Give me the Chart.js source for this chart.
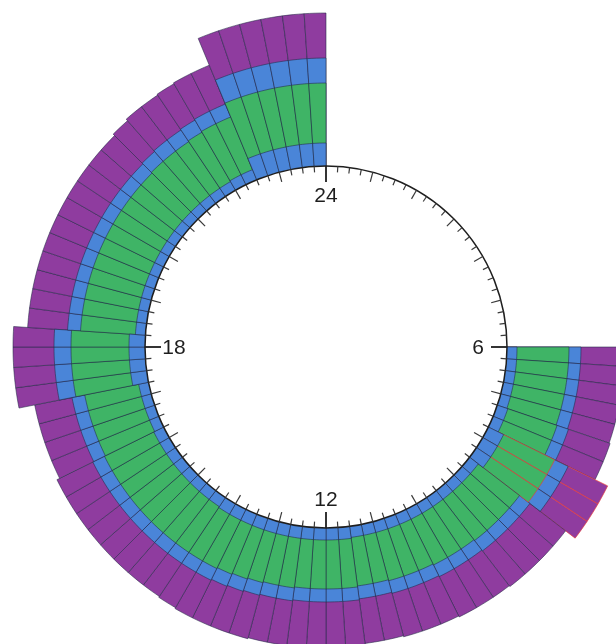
<!DOCTYPE html>
<html lang="en">
<head>
<meta charset="UTF-8">
<title>24-hour radial chart</title>
<script src="https://cdn.jsdelivr.net/npm/chart.js@4.4.1/dist/chart.umd.min.js"></script>
<style>
  html, body { margin: 0; padding: 0; background: #fff; }
  #wrap { width: 616px; height: 644px; }
</style>
</head>
<body>
<div id="wrap"><canvas id="clockChart"></canvas></div>
<script>
// one slot per 15 minutes, slot 0 = 0:00 at the top, clockwise
const slots = [];
for (let h = 0; h < 24; h++) {
  for (let m = 0; m < 60; m += 15) slots.push(h + ':' + String(m).padStart(2, '0'));
}

// clock face labels
const faceText = ['24', '6', '12', '18'];
const faceSlots = [0, 24, 48, 72];
const faceValue = 181;           // radius of the clock face in scale units

// layer thickness per slot (inner blue, green, outer blue, purple)
const innerBlue = [
  0, 0, 0, 0, 0, 0, 0, 0,
  0, 0, 0, 0, 0, 0, 0, 0,
  0, 0, 0, 0, 0, 0, 0, 0,
  10, 10, 10, 10, 10, 11, 11, 17,
  17, 17, 11, 11, 11, 11, 11, 11,
  11, 11, 11, 11, 11, 11, 12, 12,
  12, 12, 12, 12, 12, 12, 12, 12,
  12, 11, 11, 11, 11, 11, 11, 11,
  11, 10, 10, 10, 10, 16, 16, 16,
  16, 10, 10, 10, 10, 10, 10, 10,
  10, 10, 10, 10, 10, 10, 10, 10,
  11, 11, 23, 23, 23, 23, 23, 23
];
const green = [
  0, 0, 0, 0, 0, 0, 0, 0,
  0, 0, 0, 0, 0, 0, 0, 0,
  0, 0, 0, 0, 0, 0, 0, 0,
  52, 52, 52, 52, 52, 52, 52, 57,
  57, 57, 52, 52, 52, 52, 51, 51,
  51, 50, 50, 50, 49, 49, 49, 49,
  49, 49, 50, 50, 51, 52, 53, 54,
  54, 55, 55, 55, 55, 55, 55, 55,
  55, 55, 55, 55, 55, 58, 58, 58,
  58, 55, 55, 55, 55, 55, 55, 55,
  55, 55, 55, 55, 56, 56, 56, 57,
  57, 57, 60, 60, 60, 60, 60, 60
];
const outerBlue = [
  0, 0, 0, 0, 0, 0, 0, 0,
  0, 0, 0, 0, 0, 0, 0, 0,
  0, 0, 0, 0, 0, 0, 0, 0,
  12, 12, 12, 12, 12, 12, 12, 15,
  15, 15, 13, 13, 13, 13, 13, 13,
  13, 13, 13, 13, 13, 13, 13, 13,
  13, 13, 13, 13, 13, 13, 13, 13,
  13, 13, 13, 13, 13, 13, 13, 13,
  13, 13, 13, 13, 13, 17, 17, 17,
  17, 13, 13, 13, 13, 13, 13, 13,
  13, 13, 13, 13, 13, 14, 14, 14,
  14, 14, 25, 25, 25, 25, 25, 25
];
const purple = [
  0, 0, 0, 0, 0, 0, 0, 0,
  0, 0, 0, 0, 0, 0, 0, 0,
  0, 0, 0, 0, 0, 0, 0, 0,
  44, 44, 44, 44, 44, 44, 44, 44,
  44, 44, 45, 45, 45, 45, 45, 45,
  45, 45, 45, 45, 45, 45, 45, 45,
  45, 45, 45, 45, 45, 44, 43, 42,
  41, 40, 40, 40, 40, 40, 40, 40,
  40, 38, 38, 38, 38, 41, 41, 41,
  41, 40, 40, 40, 40, 40, 40, 40,
  40, 40, 40, 40, 41, 42, 42, 42,
  42, 42, 45, 45, 45, 45, 45, 45
];
// slots drawn with a red outline
const marked = [31, 32, 33];

const layerColors = ['#4a85d8', '#3fb466', '#4a85d8', '#8f3c9f'];
const edge = 'rgba(35, 40, 70, 0.55)';
const redEdge = 'rgba(230, 60, 60, 0.7)';

// stack the layers outward from the clock face
const layers = [innerBlue, green, outerBlue, purple];
const stacked = [];
let running = slots.map(() => faceValue);
layers.forEach(layer => {
  running = running.map((v, i) => v + layer[i]);
  stacked.push(running.map((v, i) => layer[i] > 0 ? v : 0));
});

// innermost layer first so it is drawn on top of the wider ones
const datasets = stacked.map((values, k) => ({
  data: values,
  backgroundColor: layerColors[k],
  borderColor: c => (k === 1 || k === 3) && marked.includes(c.dataIndex) ? redEdge : edge,
  borderWidth: 1,
  clip: false
}));

const clockFace = {
  id: 'clockFace',
  afterDatasetsDraw(chart) {
    const r = chart.scales.r;
    const ctx = chart.ctx;
    const rad = r.getDistanceFromCenterForValue(faceValue);
    ctx.save();
    // blank dial
    ctx.fillStyle = '#ffffff';
    ctx.beginPath();
    ctx.arc(r.xCenter, r.yCenter, rad, 0, Math.PI * 2);
    ctx.fill();
    ctx.strokeStyle = '#1e1e1e';
    ctx.lineWidth = 1.5;
    ctx.stroke();
    slots.forEach((s, i) => {
      const big = faceSlots.includes(i);
      const len = big ? 16 : (i % 4 === 0 ? 10 : 6);
      const a = r.getPointPosition(i, rad);
      const b = r.getPointPosition(i, rad - len);
      ctx.lineWidth = big ? 1.8 : 1.2;
      ctx.strokeStyle = big ? '#1e1e1e' : '#3a3a3a';
      ctx.beginPath();
      ctx.moveTo(a.x, a.y);
      ctx.lineTo(b.x, b.y);
      ctx.stroke();
    });
    ctx.fillStyle = '#1e1e1e';
    ctx.font = '21px "Liberation Sans", Arial, sans-serif';
    ctx.textAlign = 'center';
    ctx.textBaseline = 'middle';
    faceSlots.forEach((slot, k) => {
      const p = r.getPointPosition(slot, rad - 29);
      ctx.fillText(faceText[k], p.x, p.y + 1);
    });
    ctx.restore();
  }
};

new Chart(document.getElementById('clockChart'), {
  type: 'polarArea',
  data: { labels: slots, datasets: datasets },
  options: {
    responsive: true,
    maintainAspectRatio: false,
    animation: false,
    layout: { padding: { left: 36, top: 50, right: 0, bottom: 0 } },
    plugins: { legend: { display: false }, tooltip: { enabled: false } },
    scales: {
      r: {
        min: 0,
        max: 290,
        grid: { display: false },
        angleLines: { display: false },
        ticks: { display: false },
        pointLabels: { display: false }
      }
    }
  },
  plugins: [clockFace]
});
</script>
</body>
</html>
